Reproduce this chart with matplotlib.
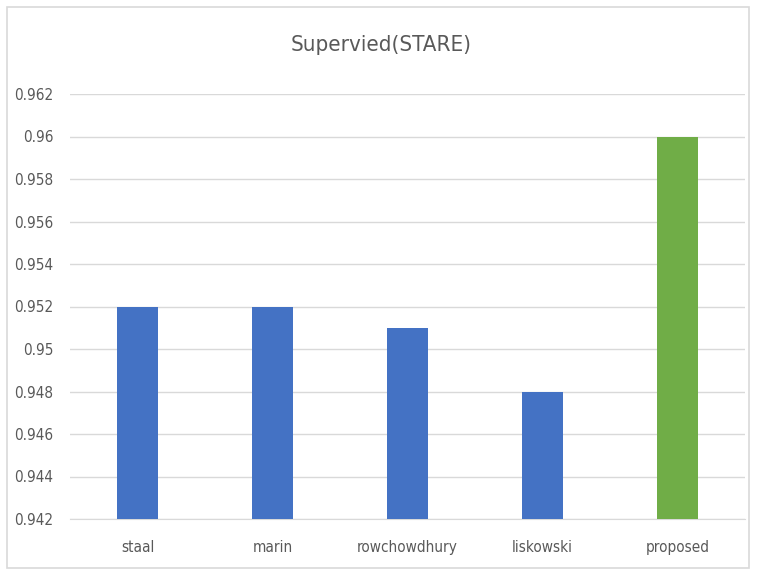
import matplotlib
matplotlib.use('Agg')
import matplotlib.pyplot as plt
from matplotlib.patches import Rectangle

plt.rcParams['font.family'] = ['DejaVu Sans']
plt.rcParams['font.stretch'] = 'condensed'

methods = ['staal', 'marin', 'rowchowdhury', 'liskowski', 'proposed']
accuracy = [0.952, 0.952, 0.951, 0.948, 0.960]
bar_colors = ['#4472C4', '#4472C4', '#4472C4', '#4472C4', '#70AD47']
yticks = [0.942, 0.944, 0.946, 0.948, 0.95, 0.952, 0.954, 0.956, 0.958, 0.96, 0.962]
ytick_labels = ['0.942', '0.944', '0.946', '0.948', '0.95', '0.952', '0.954',
                '0.956', '0.958', '0.96', '0.962']

W, H = 763, 574
fig = plt.figure(figsize=(W / 100, H / 100), dpi=100)
ax = fig.add_axes([70 / W, 1 - 519 / H, 675 / W, (519 - 94) / H])

x = list(range(len(methods)))
ax.bar(x, [a - yticks[0] for a in accuracy], bottom=yticks[0], width=0.31,
       color=bar_colors, zorder=3)

ax.set_xlim(-0.5, len(methods) - 0.5)
ax.set_ylim(yticks[0], yticks[-1])
ax.set_yticks(yticks)
ax.set_yticklabels(ytick_labels)
ax.set_xticks(x)
ax.set_xticklabels(methods)
ax.tick_params(axis='both', length=0, labelsize=11, colors='#595959')
ax.tick_params(axis='y', pad=12)
ax.tick_params(axis='x', pad=15)
ax.grid(axis='y', color='#d9d9d9', lw=1, zorder=0)
for s in ['top', 'right', 'left']:
    ax.spines[s].set_visible(False)
ax.spines['bottom'].set_color('#d9d9d9')

fig.text(0.5, 1 - 45 / H, 'Supervied(STARE)', ha='center', va='center',
         fontsize=16, color='#595959')

# chart frame
fig.patches.append(Rectangle((7 / W, 1 - 568 / H), 742 / W, 561 / H,
                             transform=fig.transFigure, fill=False,
                             ec='#d9d9d9', lw=1.2))

fig.savefig('out.png', dpi=100)
